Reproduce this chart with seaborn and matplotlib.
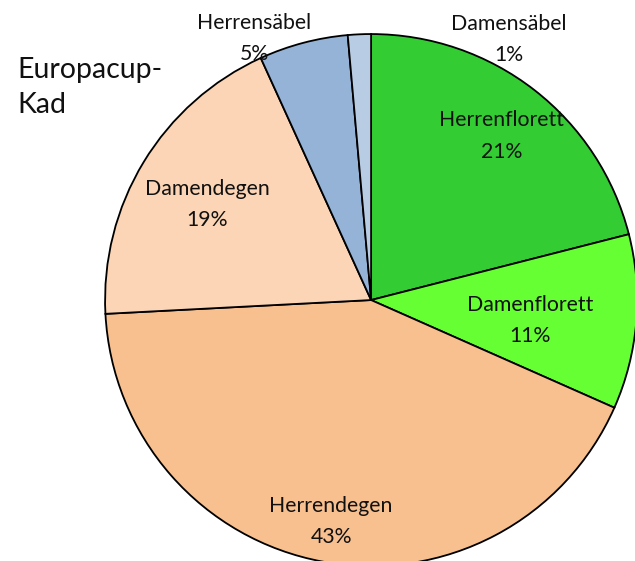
import numpy as np
import seaborn as sns
from matplotlib import pyplot as plt

# Anteile je Waffe/Geschlecht (in %)
categories = ["Herrenflorett", "Damenflorett", "Herrendegen",
              "Damendegen", "Herrensäbel", "Damensäbel"]
shares = [21.0, 10.6, 42.5, 19.0, 5.4, 1.4]
pct_labels = ["21%", "11%", "43%", "19%", "5%", "1%"]
colors = ["#33CC33", "#66FF33", "#F9C08F", "#FBD5B5", "#95B3D7", "#B8CCE4"]
title = "Europacup-\nKad"

# label placement: (radius, angle offset in degrees) relative to slice middle
label_radius = [0.80, 0.60, 0.83, 0.72, 1.09, 1.12]
label_shift = [0.0, -1.0, 0.0, 0.0, 9.0, -30.0]

sns.set_theme(style="white")
plt.rcParams["font.family"] = ["Lato", "DejaVu Sans"]

fig = plt.figure(figsize=(6.35, 5.61), dpi=100)
ax = fig.add_axes([0, 0, 1, 1])

wedges, _ = ax.pie(shares, colors=colors, startangle=90, counterclock=False,
                   radius=1.0, wedgeprops=dict(edgecolor="black", linewidth=1.3))

for w, name, pct, r, shift in zip(wedges, categories, pct_labels,
                                  label_radius, label_shift):
    mid = np.deg2rad((w.theta1 + w.theta2) / 2 + shift)
    ax.text(r * np.cos(mid), r * np.sin(mid) - 0.015, f"{name}\n{pct}",
            ha="center", va="center", fontsize=15.3, linespacing=1.7,
            color="#111111")

# pixel-like framing of the original chart (pie center off to the right)
ax.set_xlim(-1.395, 0.992)
ax.set_ylim(-0.981, 1.128)
ax.set_aspect("auto")
ax.axis("off")

fig.text(0.028, 0.844, title, ha="left", va="center", fontsize=20.5,
         linespacing=1.4, color="#111111")

fig.savefig("out.png", dpi=100)
plt.close(fig)
